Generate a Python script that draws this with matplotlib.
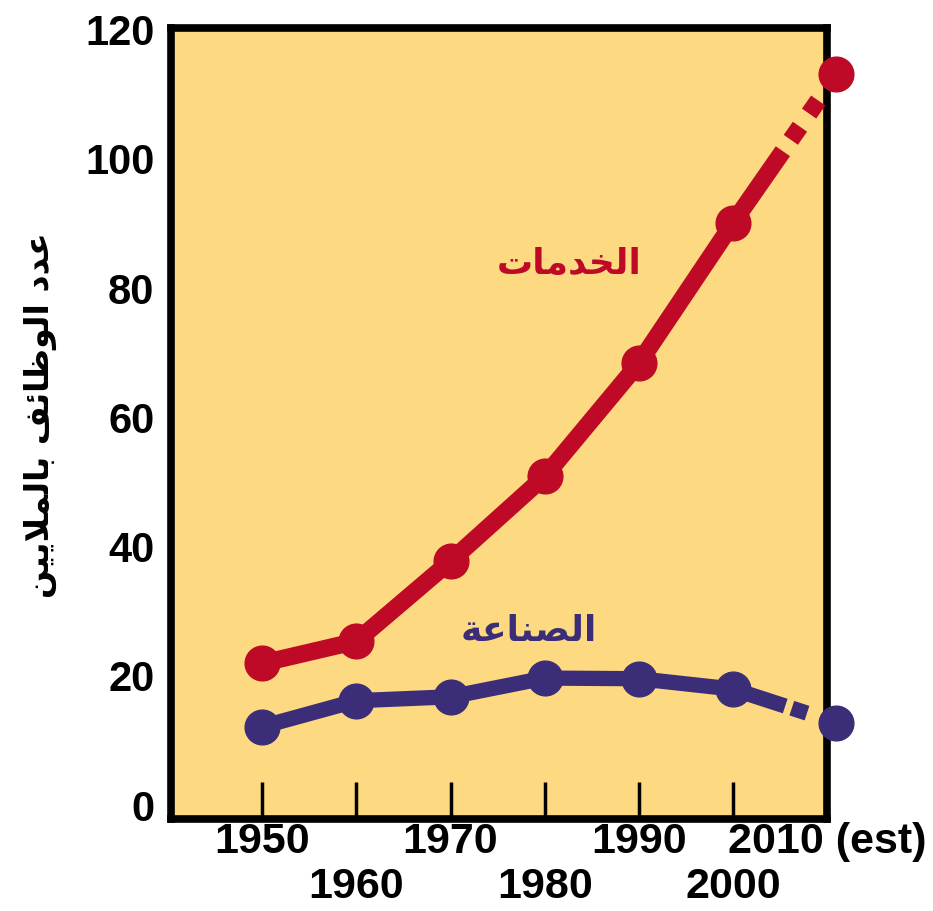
#!/usr/bin/python3

import matplotlib
matplotlib.use("Agg")
import matplotlib.pyplot as plt

# years of the readings (last one is the estimate)
years = [1950, 1960, 1970, 1980, 1990, 2000, 2011]
services = [21.8, 25.2, 37.6, 50.7, 68.2, 89.9, 112.9]
industry = [12.0, 16.0, 16.6, 19.5, 19.4, 17.8, 12.6]

row1_ticks = [1950, 1970, 1990, 2010]
row1_labels = ["1950", "1970", "1990", "2010 (est)"]
row2_ticks = [1960, 1980, 2000]
row2_labels = ["1960", "1980", "2000"]
y_ticks = [0, 20, 40, 60, 80, 100, 120]

# Arabic text, shaped by hand (presentation forms) and put in visual order
services_label = "\ufe95\ufe8e\ufee3\ufeaa\ufea8\ufedf\ufe8d"   # الخدمات
industry_label = "\ufe94\ufecb\ufe8e\ufee8\ufebc\ufedf\ufe8d"   # الصناعة
y_label = ("\ufee6\ufef4\ufef3\ufefc\ufee4\ufedf\ufe8e\ufe91 "
           "\ufed2\ufe8b\ufe8e\ufec7\ufeee\ufedf\ufe8d "
           "\ufea9\ufeaa\ufecb")                                 # عدد الوظائف بالملايين

RED = "#be0a26"
BLUE = "#3b2d78"
BG = "#fdd981"


def main():
    plt.rcParams["lines.scale_dashes"] = False
    fig = plt.figure(figsize=(9.33, 9.12), dpi=100)
    ax = fig.add_axes([0.1833, 0.1009, 0.7031, 0.8668])
    ax.set_facecolor(BG)

    # solid part up to 2000, dashed estimate after that
    ax.plot(years[:-1], services[:-1], color=RED, lw=12.5,
            solid_capstyle="round", solid_joinstyle="round", zorder=3)
    ax.plot(years[-2:], services[-2:], color=RED, lw=12.5,
            dashes=(63, 10, 11.5, 11.5, 11.5, 60), zorder=3, clip_on=False)
    ax.plot(years, services, "o", color=RED, ms=25, zorder=4, clip_on=False)

    ax.plot(years[:-1], industry[:-1], color=BLUE, lw=11,
            solid_capstyle="round", solid_joinstyle="round", zorder=3)
    ax.plot(years[-2:], industry[-2:], color=BLUE, lw=11,
            dashes=(39.6, 5, 11.5, 60), zorder=3, clip_on=False)
    ax.plot(years, industry, "o", color=BLUE, ms=25, zorder=4, clip_on=False)

    ax.text(1982.6, 83.7, services_label, color=RED, fontsize=26,
            fontweight="bold", family="DejaVu Sans", ha="center", va="center")
    ax.text(1978.3, 27.0, industry_label, color=BLUE, fontsize=26,
            fontweight="bold", family="DejaVu Sans", ha="center", va="center")

    ax.set_xlim(1940.3, 2010)
    ax.set_ylim(-2.3, 119.1)

    for side in ["left", "right", "top", "bottom"]:
        ax.spines[side].set_linewidth(5.5)
        ax.spines[side].set_capstyle("projecting")

    ax.set_yticks(y_ticks)
    ax.set_yticklabels([str(v) for v in y_ticks], fontsize=30,
                       fontweight="bold", family="Liberation Sans")
    ax.tick_params(axis="y", direction="in", length=0, width=4, pad=12)

    ax.set_xticks(row1_ticks)
    ax.set_xticklabels(row1_labels, fontsize=31, fontweight="bold",
                       family=["Liberation Sans Narrow", "Liberation Sans"])
    ax.set_xticks(row2_ticks, minor=True)
    ax.set_xticklabels(row2_labels, minor=True, fontsize=31,
                       fontweight="bold",
                       family=["Liberation Sans Narrow", "Liberation Sans"])
    ax.tick_params(axis="x", which="both", direction="in", length=27,
                   width=2.5, pad=1.5)
    ax.tick_params(axis="x", which="minor", pad=34)

    fig.text(40 / 933, 1 - 415 / 912, y_label, rotation=90, fontsize=24,
             fontweight="bold", family="DejaVu Sans",
             ha="center", va="center")

    fig.savefig("out.png", dpi=100)


if __name__ == "__main__":
    main()
